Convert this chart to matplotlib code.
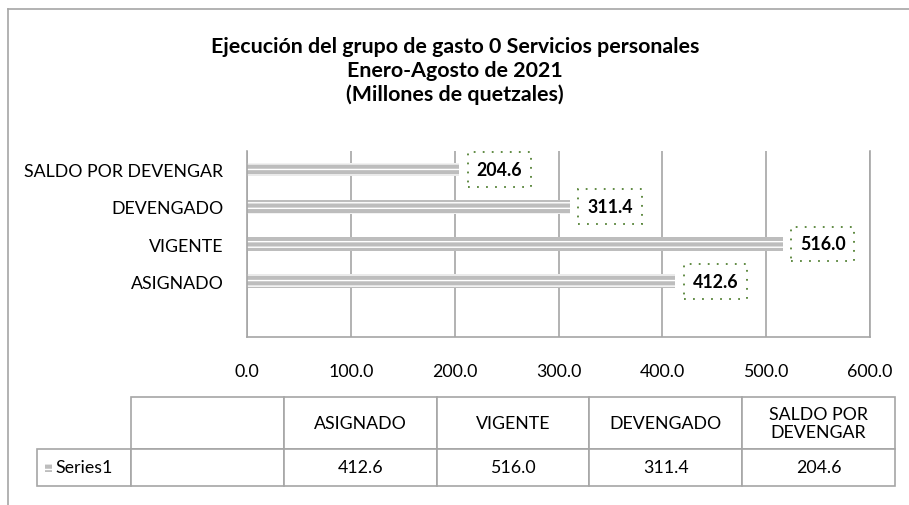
import matplotlib.pyplot as plt
from matplotlib.lines import Line2D
from matplotlib.patches import Rectangle

plt.rcParams['font.family'] = ['Lato', 'DejaVu Sans']
plt.rcParams['hatch.linewidth'] = 1.0

# datos (la primera categoria va vacia, como en la tabla de Excel)
categorias = ['', 'ASIGNADO', 'VIGENTE', 'DEVENGADO', 'SALDO POR DEVENGAR']
valores = [None, 412.6, 516.0, 311.4, 204.6]
encabezados = ['', 'ASIGNADO', 'VIGENTE', 'DEVENGADO', 'SALDO POR\nDEVENGAR']
serie = 'Series1'
ticks_x = [0, 100, 200, 300, 400, 500, 600]

W, H = 909, 506
fig = plt.figure(figsize=(W / 100, H / 100), dpi=100)

gris = '#a6a6a6'
barra = '#bdbdbd'
fs = 12.8

# marco exterior
fig.add_artist(Line2D([8 / W, 8 / W], [0, 1 - 10 / H], color=gris, lw=1.2))
fig.add_artist(Line2D([8 / W, 1], [1 - 10 / H, 1 - 10 / H], color=gris, lw=1.2))

# titulo
fig.text(455 / W, 1 - 71 / H,
         'Ejecución del grupo de gasto 0 Servicios personales\nEnero-Agosto de 2021\n(Millones de quetzales)',
         ha='center', va='center', fontsize=15.4, fontweight='bold', linespacing=1.25)

# grafica de barras
ax = fig.add_axes([247 / W, 1 - 338 / H, (870 - 247) / W, (338 - 152) / H])
pos = list(range(len(categorias)))
for i, v in enumerate(valores):
    if v is None:
        continue
    ax.barh(i, v, height=0.37, color=barra, edgecolor='white', hatch='---', lw=0)
    ax.annotate(f'{v:.1f}', xy=(v, i), xytext=(17, 0), textcoords='offset pixels',
                ha='left', va='center', fontsize=fs, fontweight='bold',
                bbox=dict(boxstyle='square,pad=0.5', fc='none', ec='#548235', ls=(0, (1, 4)), lw=1.3))

ax.set_xlim(0, 600)
ax.set_ylim(-0.5, len(categorias) - 0.5)
ax.set_xticks(ticks_x)
ax.set_xticklabels([f'{t:.1f}' for t in ticks_x], fontsize=fs)
ax.set_yticks(pos)
ax.set_yticklabels(categorias, fontsize=fs)
ax.tick_params(length=0)
ax.tick_params(axis='x', pad=19)
ax.tick_params(axis='y', pad=17)
ax.grid(axis='x', color=gris, lw=1.2)
ax.set_axisbelow(True)
ax.spines['top'].set_visible(False)
for s in ['left', 'bottom', 'right']:
    ax.spines[s].set_color(gris)
    ax.spines[s].set_linewidth(1.2)

# tabla de datos
tx0, tx1, ty0, ty1 = 37, 895, 398, 487
tax = fig.add_axes([tx0 / W, 1 - ty1 / H, (tx1 - tx0) / W, (ty1 - ty0) / H])
tax.axis('off')
anchos = [131 - 37] + [152.8] * 5
total = sum(anchos)
celdas = [[''] + encabezados, [''] + ['' if v is None else f'{v:.1f}' for v in valores]]
tabla = tax.table(cellText=celdas, cellLoc='center', bbox=[0, 0, 1, 1])
tabla.auto_set_font_size(False)
for (r, c), cell in tabla.get_celld().items():
    cell.set_width(anchos[c] / total)
    cell.set_height((52 if r == 0 else 37) / 89)
    cell.set_edgecolor(gris)
    cell.set_linewidth(1.2)
    cell.get_text().set_fontsize(fs)
    cell.get_text().set_linespacing(1.1)
    if r == 0 and c == 0:
        cell.visible_edges = ''
tabla[1, 0].get_text().set_text(serie)
tabla[1, 0].get_text().set_ha('left')
tabla[1, 0]._loc = 'left'
tabla[1, 0].PAD = 0.2

# clave de la leyenda en la tabla
tax.add_patch(Rectangle((8 / (tx1 - tx0), 14 / 89), 7 / (tx1 - tx0), 8 / 89,
                        transform=tax.transAxes, fc=barra, ec='white', hatch='---', lw=0))

fig.savefig('out.png', dpi=100)
